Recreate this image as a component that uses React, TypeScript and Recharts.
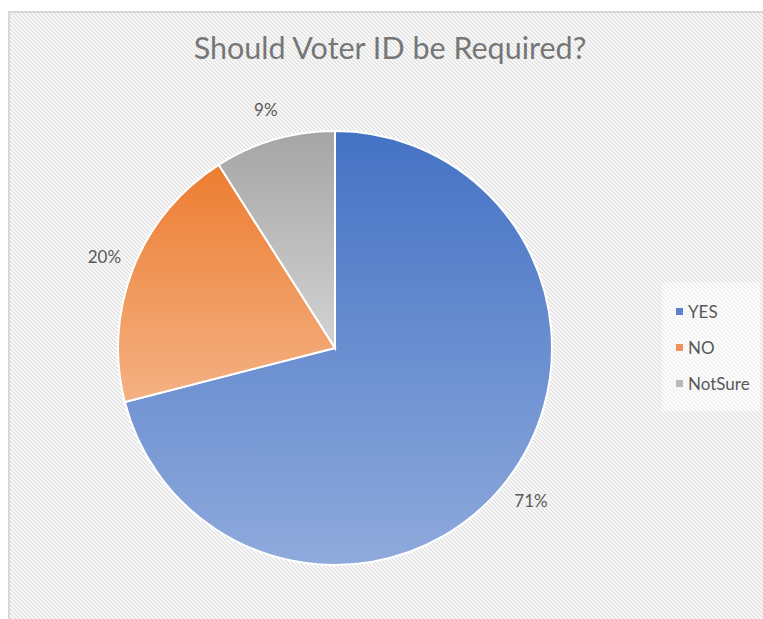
import { PieChart, Pie, Cell, Legend } from "recharts";

const categories = ["YES", "NO", "NotSure"];
const shares = [71, 20, 9];
const topColors = ["#4472C4", "#ED7D31", "#A5A5A5"];
const bottomColors = ["#8FAADC", "#F4B183", "#D3D3D3"];
const legendColors = ["#5B80CC", "#F0915A", "#B9B9B9"];

const data = categories.map((name, i) => ({ name, value: shares[i] }));

const RADIAN = Math.PI / 180;
const FONT = "Lato, 'Open Sans', sans-serif";

// diagonal hatch like the excel chart area fill
const hatch =
  "url(\"data:image/svg+xml;utf8,<svg xmlns='http://www.w3.org/2000/svg' width='4' height='4'><path d='M-1,3 l2,2 M0,0 l4,4 M3,-1 l2,2' stroke='%23dedede' stroke-width='1.3'/></svg>\")";

function renderLabel(props: any) {
  const { cx, cy, midAngle, outerRadius, value } = props;
  const r = outerRadius + 31;
  const x = cx + r * Math.cos(-midAngle * RADIAN);
  const y = cy + r * Math.sin(-midAngle * RADIAN);
  return (
    <text
      x={x}
      y={y}
      textAnchor="middle"
      dominantBaseline="central"
      fill="#595959"
      fontSize={17}
      fontFamily={FONT}
    >
      {value}%
    </text>
  );
}

function LegendBox() {
  return (
    <div
      style={{
        background: "rgba(255,255,255,0.5)",
        padding: "10px 10px 10px 14px",
        fontFamily: FONT,
        fontSize: 17,
        color: "#595959",
      }}
    >
      {categories.map((c, i) => (
        <div
          key={c}
          style={{ display: "flex", alignItems: "center", height: 36 }}
        >
          <span
            style={{
              width: 7,
              height: 7,
              background: legendColors[i],
              marginRight: 5,
              display: "inline-block",
            }}
          />
          {c}
        </div>
      ))}
    </div>
  );
}

export default function App() {
  return (
    <div
      style={{
        position: "absolute",
        left: 8,
        top: 11,
        width: 755,
        height: 608,
        boxSizing: "border-box",
        borderTop: "2px solid #d9d9d9",
        borderLeft: "2px solid #d9d9d9",
        backgroundColor: "#ffffff",
        backgroundImage: hatch,
        overflow: "hidden",
      }}
    >
      <div
        style={{
          position: "absolute",
          left: 0,
          width: 760,
          top: 16,
          textAlign: "center",
          fontFamily: FONT,
          fontSize: 30.5,
          color: "#767676",
        }}
      >
        Should Voter ID be Required?
      </div>
      <PieChart width={753} height={606}>
        <defs>
          {categories.map((c, i) => (
            <linearGradient key={c} id={`grad${i}`} x1="0" y1="0" x2="0" y2="1">
              <stop offset="0%" stopColor={topColors[i]} />
              <stop offset="100%" stopColor={bottomColors[i]} />
            </linearGradient>
          ))}
        </defs>
        <Pie
          data={data}
          dataKey="value"
          nameKey="name"
          cx={320}
          cy={330}
          outerRadius={217}
          startAngle={90}
          endAngle={-270}
          stroke="#ffffff"
          strokeWidth={2}
          label={renderLabel}
          labelLine={false}
          isAnimationActive={false}
        >
          {data.map((d, i) => (
            <Cell key={d.name} fill={`url(#grad${i})`} />
          ))}
        </Pie>
        <Legend
          layout="vertical"
          content={() => <LegendBox />}
          wrapperStyle={{ position: "absolute", left: 652, top: 270, width: "auto" }}
        />
      </PieChart>
    </div>
  );
}
